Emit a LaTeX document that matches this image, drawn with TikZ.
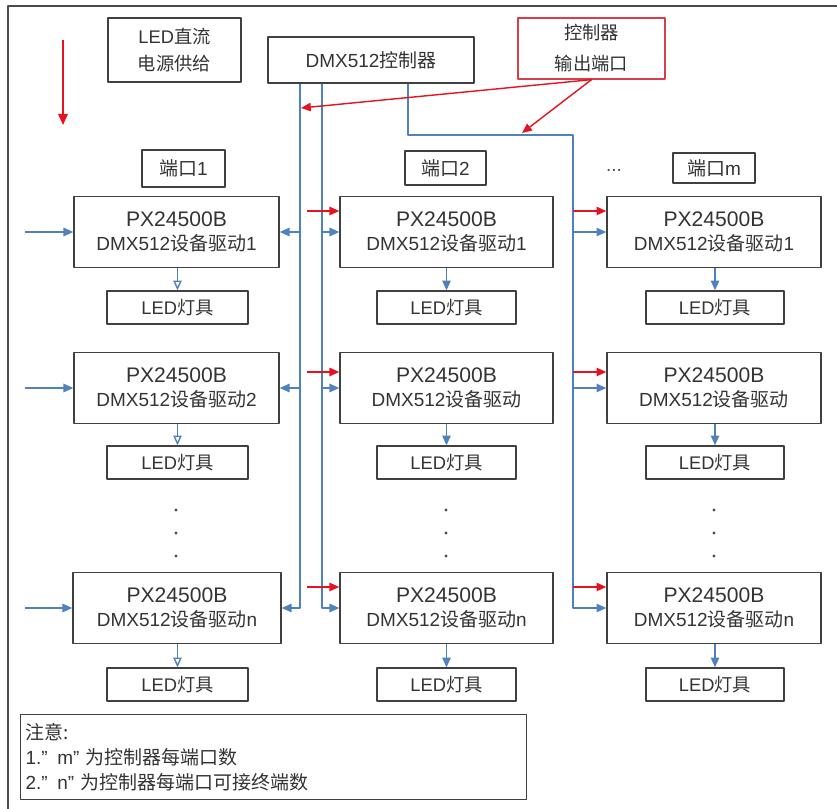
\documentclass[tikz,border=0pt]{standalone}
\usepackage{fontspec}
\setmainfont{Liberation Sans}
\newfontfamily\cjk{Noto Sans CJK SC}
\newcommand\zh[1]{{\cjk #1}}
\usetikzlibrary{arrows.meta}
\definecolor{lineblue}{RGB}{79,129,189}
\definecolor{linered}{RGB}{228,20,30}
\definecolor{boxred}{RGB}{214,62,72}
\tikzset{
  box/.style={draw=black!75, line width=0.9pt, align=center, text=black!80, inner sep=1pt},
  drv/.style={box, minimum height=1.775cm, font=\fontsize{13.5}{16.5}\selectfont},
  lamp/.style={box, minimum height=0.825cm, font=\fontsize{13}{15}\selectfont},
  blu/.style={draw=lineblue, line width=1pt},
  rd/.style={draw=linered, line width=1pt},
  tipb/.style={-{Triangle[length=7pt,width=6pt,fill=lineblue]}},
  tipo/.style={-{Triangle[open,length=7pt,width=6pt]}},
  tipr/.style={-{Triangle[length=7pt,width=6pt,fill=linered]}}
}
\newcommand\pxname{{\fontsize{15}{17}\selectfont PX24500B}}
\begin{document}
\begin{tikzpicture}[x=0.025cm, y=-0.025cm, font=\fontsize{13.5}{17}\selectfont, line join=round]
\useasboundingbox (0,0) rectangle (837,809);
\draw[black!70, line width=1pt] (8,809) -- (8,6) -- (837,6);
% top
\coordinate (ra1) at (63,40); \coordinate (ra2) at (63,125);
\draw[rd, line width=1.1pt, -{Triangle[length=8pt,width=7pt,fill=linered]}] (ra1) -- (ra2);
\node[box, minimum width=3.325cm, minimum height=1.6cm, font=\fontsize{13}{19}\selectfont] (pwr) at (174.5,50) {LED\zh{直流}\\\zh{电源供给}};
\node[box, minimum width=5.15cm, minimum height=1.15cm] (ctrl) at (371,60) {DMX512\zh{控制器}};
\node[box, draw=boxred, minimum width=3.675cm, minimum height=1.525cm, font=\fontsize{13}{22}\selectfont] (portout) at (591.5,48.5) {\zh{控制器}\\\zh{输出端口}};
% ports
\node[box, minimum width=2.075cm, minimum height=0.925cm] (port1) at (183.5,168.5) {\zh{端口}1};
\node[box, minimum width=2.025cm, minimum height=0.85cm] (port2) at (445.5,168) {\zh{端口}2};
\node[box, minimum width=2.05cm, minimum height=0.75cm] (portm) at (714,168) {\zh{端口}m};
\node[text=black!70] (etc) at (614,170) {...};
% drivers
\node[drv, minimum width=5.125cm] (d11) at (176.5,232) {\pxname\\DMX512\zh{设备驱动}1};
\node[drv, minimum width=5.125cm] (d12) at (176.5,388) {\pxname\\DMX512\zh{设备驱动}2};
\node[drv, minimum width=5.2cm] (d1n) at (177,608) {\pxname\\DMX512\zh{设备驱动}n};
\node[drv, minimum width=5.325cm] (d21) at (446.5,232) {\pxname\\DMX512\zh{设备驱动}1};
\node[drv, minimum width=5.325cm] (d22) at (446.5,388) {\pxname\\DMX512\zh{设备驱动}};
\node[drv, minimum width=5.325cm] (d2n) at (446.5,608) {\pxname\\DMX512\zh{设备驱动}n};
\node[drv, minimum width=5.35cm] (d31) at (714,232) {\pxname\\DMX512\zh{设备驱动}1};
\node[drv, minimum width=5.35cm] (d32) at (714,388) {\pxname\\DMX512\zh{设备驱动}};
\node[drv, minimum width=5.35cm] (d3n) at (714,608) {\pxname\\DMX512\zh{设备驱动}n};
% lamps
\node[lamp, minimum width=3.525cm] (l11) at (177.5,307.5) {LED\zh{灯具}};
\node[lamp, minimum width=3.525cm] (l12) at (177.5,462.5) {LED\zh{灯具}};
\node[lamp, minimum width=3.525cm] (l1n) at (177.5,684.5) {LED\zh{灯具}};
\node[lamp, minimum width=3.475cm] (l21) at (446.5,307.5) {LED\zh{灯具}};
\node[lamp, minimum width=3.475cm] (l22) at (446.5,462.5) {LED\zh{灯具}};
\node[lamp, minimum width=3.475cm] (l2n) at (446.5,684.5) {LED\zh{灯具}};
\node[lamp, minimum width=3.45cm] (l31) at (715,307.5) {LED\zh{灯具}};
\node[lamp, minimum width=3.45cm] (l32) at (715,462.5) {LED\zh{灯具}};
\node[lamp, minimum width=3.45cm] (l3n) at (715,684.5) {LED\zh{灯具}};
% dots
\foreach \x in {176,446,714}
  \foreach \y in {510,533,556}
    \fill[black!70] (\x,\y) circle (1.2pt);
% note
\node[box, anchor=north west, minimum width=12.65cm, minimum height=2.125cm, text width=12.4cm, align=left, inner xsep=3pt, font=\fontsize{13.5}{18}\selectfont] (note) at (20,714)
  {\zh{注意:}\\1.” m” \zh{为控制器每端口数}\\2.” n” \zh{为控制器每端口可接终端数}};
% buses
\coordinate (busA) at (300,0); \coordinate (busB) at (322,0);
\coordinate (busC) at (573,0); \coordinate (cx) at (408,0);
\coordinate (bend) at (573,135); \coordinate (in1) at (25,0);
\draw[blu, tipb] (ctrl.south -| busA) |- (d1n.east);
\draw[blu, tipb] (ctrl.south -| busB) |- (d2n.west);
\draw[blu, tipb] (ctrl.south -| cx) |- (bend) |- (d3n.west);
\foreach \r in {1,2,n} {
  \draw[blu, tipb] (d1\r.west -| in1) -- (d1\r.west);
}
\foreach \r in {1,2} {
  \draw[blu, tipb] (d1\r.east -| busA) -- (d1\r.east);
  \draw[blu, tipb] (d2\r.west -| busB) -- (d2\r.west);
  \draw[blu, tipb] (d3\r.west -| busC) -- (d3\r.west);
}
% red feeds
\coordinate (tA) at (301,108); \coordinate (tB) at (522,133);
\draw[rd, tipr] (portout.south) -- (tA);
\draw[rd, tipr] (portout.south) -- (tB);
\foreach \r/\y in {1/211,2/372,n/587} {
  \coordinate (s2\r) at (307,\y); \coordinate (s3\r) at (573,\y);
  \draw[rd, tipr] (s2\r) -- (s2\r -| d2\r.west);
  \draw[rd, tipr] (s3\r) -- (s3\r -| d3\r.west);
}
% driver to lamp
\foreach \r in {1,2,n} {
  \draw[blu, tipo] (d1\r.south -| l1\r.north) -- (l1\r.north);
  \draw[blu, tipb] (d2\r) -- (l2\r);
  \draw[blu, tipb] (d3\r.south -| l3\r.north) -- (l3\r.north);
}
\end{tikzpicture}
\end{document}
